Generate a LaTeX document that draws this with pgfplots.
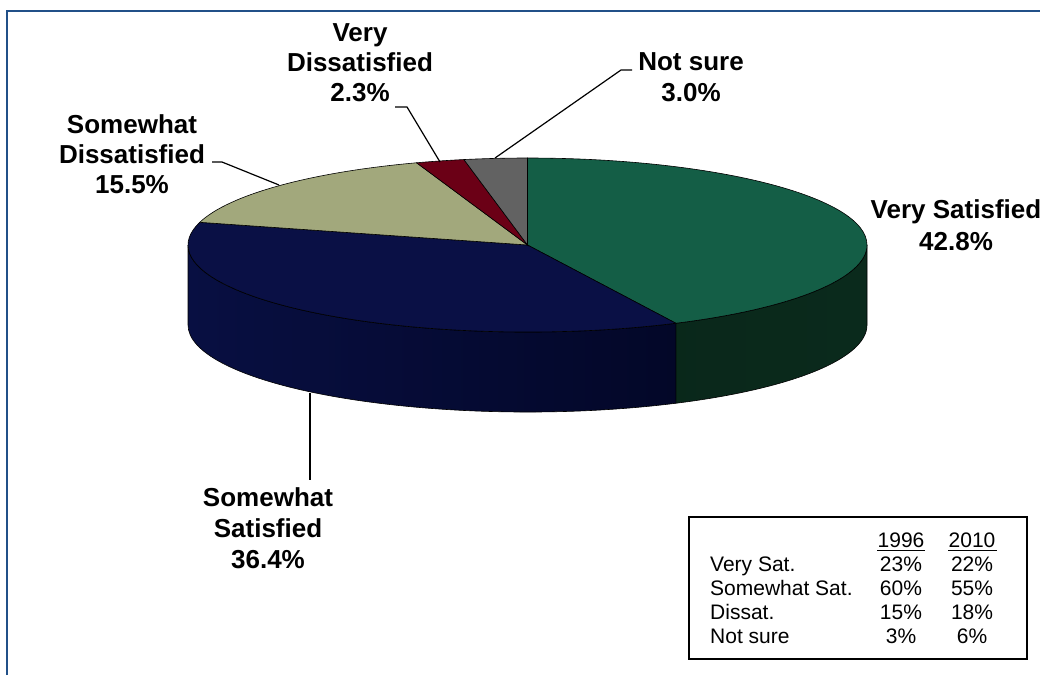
\documentclass[border=0pt]{standalone}
\usepackage{pgfplots}
\pgfplotsset{compat=1.18}
\usepackage{fontspec}
\setmainfont{Liberation Sans}
\definecolor{cVS}{RGB}{20,94,70}
\definecolor{cSS}{RGB}{10,16,69}
\definecolor{cSD}{RGB}{162,168,124}
\definecolor{cVD}{RGB}{107,0,22}
\definecolor{cNS}{RGB}{98,98,98}
\definecolor{cVSside}{RGB}{10,42,28}
\definecolor{cSSsideL}{RGB}{8,15,66}
\definecolor{cSSsideR}{RGB}{3,7,40}
\definecolor{frame}{RGB}{33,80,136}
\newcommand\lbl{\bfseries\fontsize{26}{31}\selectfont}
\newcommand\tbl{\fontsize{21}{24}\selectfont}
% data (percent)
\def\vVS{42.8}
\def\vSS{36.4}
\def\vSD{15.5}
\def\vVD{2.3}
\def\vNS{3.0}
\pgfmathsetmacro{\aA}{90}
\pgfmathsetmacro{\aB}{\aA-3.6*\vVS}
\pgfmathsetmacro{\aC}{\aB-3.6*\vSS}
\pgfmathsetmacro{\aD}{\aC-3.6*\vSD}
\pgfmathsetmacro{\aE}{\aD-3.6*\vVD}
\pgfmathsetmacro{\aF}{\aE-3.6*\vNS}
\tikzset{pie/.style={x radius=339.5pt, y radius=87pt}}
\def\ctr{(axis cs:527.5,245)}
\begin{document}
\begin{tikzpicture}
\begin{axis}[scale only axis, width=1040pt, height=675pt,
  xmin=0, xmax=1040, ymin=0, ymax=675, y dir=reverse,
  hide axis, clip=false]
% side faces
\path[left color=cVSside!90!black, right color=cVSside, draw=black, line width=0.6pt]
  \ctr ++(\aB:339.5pt and 87pt) arc[start angle=\aB, end angle=0, pie]
  -- ++(0,-80pt) arc[start angle=0, end angle=\aB, pie] -- cycle;
\path[left color=cSSsideL, right color=cSSsideR, draw=black, line width=0.6pt]
  \ctr ++(-180:339.5pt and 87pt) arc[start angle=-180, end angle=\aB, pie]
  -- ++(0,-80pt) arc[start angle=\aB, end angle=-180, pie] -- cycle;
% top faces
\filldraw[fill=cVS, draw=black, line width=0.6pt] \ctr -- ++(\aA:339.5pt and 87pt)
  arc[start angle=\aA, end angle=\aB, pie] -- cycle;
\filldraw[fill=cSS, draw=black, line width=0.6pt] \ctr -- ++(\aB:339.5pt and 87pt)
  arc[start angle=\aB, end angle=\aC, pie] -- cycle;
\filldraw[fill=cSD, draw=black, line width=0.6pt] \ctr -- ++(\aC:339.5pt and 87pt)
  arc[start angle=\aC, end angle=\aD, pie] -- cycle;
\filldraw[fill=cVD, draw=black, line width=0.6pt] \ctr -- ++(\aD:339.5pt and 87pt)
  arc[start angle=\aD, end angle=\aE, pie] -- cycle;
\filldraw[fill=cNS, draw=black, line width=0.6pt] \ctr -- ++(\aE:339.5pt and 87pt)
  arc[start angle=\aE, end angle=\aF, pie] -- cycle;
% leader lines
\draw[line width=1.2pt] (axis cs:212,162) -- (axis cs:222,162) -- (axis cs:279,185);
\draw[line width=1.2pt] (axis cs:395,107) -- (axis cs:407,107) -- (axis cs:440,162);
\draw[line width=1.2pt] (axis cs:632,70) -- (axis cs:621,70) -- (axis cs:495,158);
\draw[line width=1.2pt] (axis cs:310,393) -- (axis cs:310,480);
% labels
\node[anchor=base, font=\lbl, inner sep=0] at (axis cs:956,218) {Very Satisfied};
\node[anchor=base, font=\lbl, inner sep=0] at (axis cs:956,250) {\vVS\%};
\node[anchor=base, font=\lbl, inner sep=0] at (axis cs:268,506) {Somewhat};
\node[anchor=base, font=\lbl, inner sep=0] at (axis cs:268,537) {Satisfied};
\node[anchor=base, font=\lbl, inner sep=0] at (axis cs:268,568) {\vSS\%};
\node[anchor=base, font=\lbl, inner sep=0] at (axis cs:132,133) {Somewhat};
\node[anchor=base, font=\lbl, inner sep=0] at (axis cs:132,163) {Dissatisfied};
\node[anchor=base, font=\lbl, inner sep=0] at (axis cs:132,193) {\vSD\%};
\node[anchor=base, font=\lbl, inner sep=0] at (axis cs:360,41) {Very};
\node[anchor=base, font=\lbl, inner sep=0] at (axis cs:360,71) {Dissatisfied};
\node[anchor=base, font=\lbl, inner sep=0] at (axis cs:360,101) {\vVD\%};
\node[anchor=base, font=\lbl, inner sep=0] at (axis cs:691,70) {Not sure};
\node[anchor=base, font=\lbl, inner sep=0] at (axis cs:691,101) {\vNS\%};
% inset table
\draw[line width=1.8pt] (axis cs:689,517) rectangle (axis cs:1027,659);
\node[anchor=base, font=\tbl, inner sep=0] at (axis cs:901,547) {1996};
\node[anchor=base, font=\tbl, inner sep=0] at (axis cs:972,547) {2010};
\draw[line width=1.2pt] (axis cs:877,550.5) -- (axis cs:925,550.5);
\draw[line width=1.2pt] (axis cs:948,550.5) -- (axis cs:997,550.5);
\node[anchor=base west, font=\tbl, inner sep=0] at (axis cs:710,571) {Very Sat.};
\node[anchor=base west, font=\tbl, inner sep=0] at (axis cs:710,595) {Somewhat Sat.};
\node[anchor=base west, font=\tbl, inner sep=0] at (axis cs:710,619) {Dissat.};
\node[anchor=base west, font=\tbl, inner sep=0] at (axis cs:710,643) {Not sure};
\node[anchor=base, font=\tbl, inner sep=0] at (axis cs:901,571) {23\%};
\node[anchor=base, font=\tbl, inner sep=0] at (axis cs:901,595) {60\%};
\node[anchor=base, font=\tbl, inner sep=0] at (axis cs:901,619) {15\%};
\node[anchor=base, font=\tbl, inner sep=0] at (axis cs:901,643) {3\%};
\node[anchor=base, font=\tbl, inner sep=0] at (axis cs:972,571) {22\%};
\node[anchor=base, font=\tbl, inner sep=0] at (axis cs:972,595) {55\%};
\node[anchor=base, font=\tbl, inner sep=0] at (axis cs:972,619) {18\%};
\node[anchor=base, font=\tbl, inner sep=0] at (axis cs:972,643) {6\%};
% frame
\draw[frame, line width=2pt] (axis cs:7,675) -- (axis cs:7,11) -- (axis cs:1040,11);
\end{axis}
\pgfresetboundingbox
\useasboundingbox (current axis.south west) rectangle (current axis.north east);
\end{tikzpicture}
\end{document}
